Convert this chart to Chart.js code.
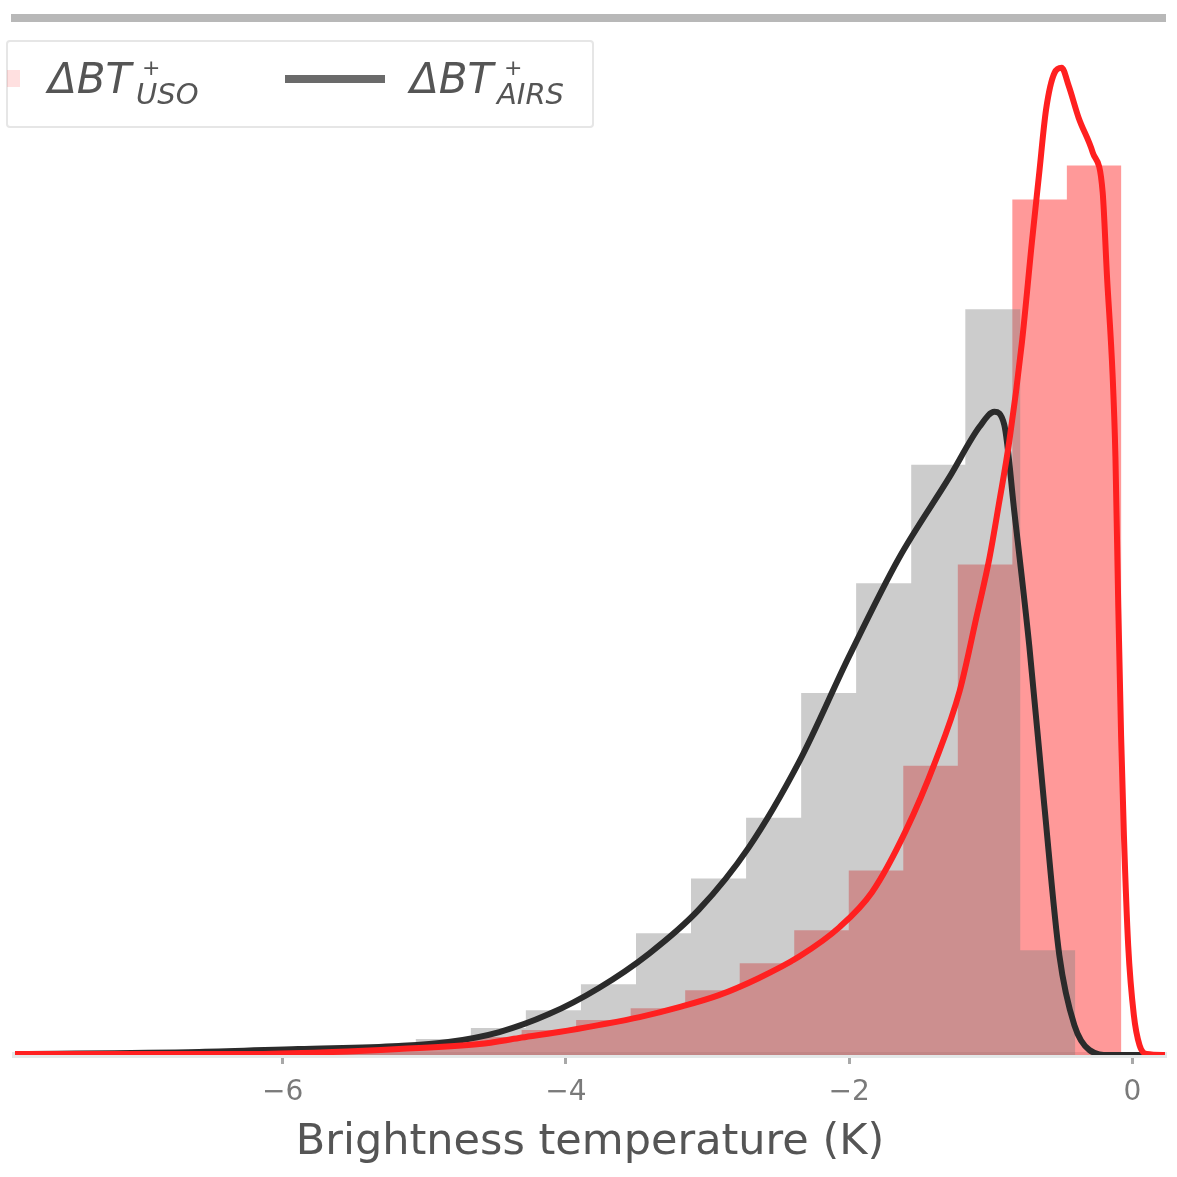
<!DOCTYPE html>
<html>
<head>
<meta charset="utf-8">
<script src="https://cdn.jsdelivr.net/npm/chart.js@4.4.1/dist/chart.umd.min.js"></script>
<style>
  body { margin: 0; background: #fff; }
  #wrap { position: relative; width: 1177px; height: 1177px; }
  #legendBox {
    position: absolute; left: 6px; top: 40px; width: 588px; height: 88px;
    border: 2px solid #e6e6e6; border-radius: 4px; background: rgba(255,255,255,0.85);
    box-sizing: border-box;
  }
  .lg { position: absolute; font-family: "DejaVu Sans", sans-serif; color: #555; line-height: 1; white-space: nowrap; font-style: italic; }
  .big { font-size: 42px; }
  .sub { font-size: 29px; }
  .sup { font-size: 22px; }
</style>
</head>
<body>
<div id="wrap">
  <canvas id="chart" width="1177" height="1177"></canvas>
  <div id="legendBox"></div>
  <div style="position:absolute;left:7px;top:70px;width:13px;height:17px;background:rgba(255,0,0,0.12)"></div>
  <div class="lg big" style="left:48px;top:58px">ΔBT</div>
  <div class="lg sup" style="left:142px;top:57px">+</div>
  <div class="lg sub" style="left:136px;top:80px">USO</div>
  <div style="position:absolute;left:285px;top:75px;width:100px;height:8px;background:#6a6a6a"></div>
  <div class="lg big" style="left:410px;top:58px">ΔBT</div>
  <div class="lg sup" style="left:504px;top:57px">+</div>
  <div class="lg sub" style="left:497px;top:80px">AIRS</div>
</div>
<script>
// histogram bins (bin edges ascending, one height per bin)
const grayEdges = [-7.781, -7.392, -7.004, -6.615, -6.226, -5.837, -5.449, -5.060, -4.671, -4.283,
  -3.894, -3.505, -3.117, -2.728, -2.339, -1.951, -1.562, -1.180, -0.792, -0.403];
const grayCounts = [0.001, 0.002, 0.003, 0.004, 0.005, 0.007, 0.010, 0.016, 0.027, 0.045,
  0.071, 0.122, 0.177, 0.238, 0.363, 0.473, 0.592, 0.748, 0.105];

const redEdges = [-7.393, -7.008, -6.623, -6.238, -5.853, -5.468, -5.083, -4.698, -4.313, -3.928,
  -3.543, -3.158, -2.773, -2.388, -2.003, -1.618, -1.233, -0.848, -0.463, -0.078];
const redCounts = [0.001, 0.001, 0.002, 0.003, 0.005, 0.008, 0.012, 0.018, 0.025, 0.035,
  0.047, 0.065, 0.092, 0.125, 0.185, 0.290, 0.492, 0.858, 0.892];

// density curves
const redKdeX = [-7.89, -6.24, -5.65, -5.18, -4.61, -4.33, -4.05, -3.77, -3.48, -3.20, -2.92, -2.64,
  -2.35, -2.07, -1.84, -1.60, -1.39, -1.22, -1.10, -1.01, -0.94, -0.87, -0.78, -0.71, -0.66, -0.61,
  -0.55, -0.50, -0.45, -0.38, -0.28, -0.21, -0.18, -0.14, -0.12, -0.10, -0.08, -0.06, -0.03, 0.01,
  0.05, 0.10, 0.23];
const redKdeY = [0.001, 0.001, 0.003, 0.006, 0.011, 0.017, 0.023, 0.030, 0.038, 0.048, 0.060, 0.077,
  0.099, 0.128, 0.163, 0.225, 0.295, 0.365, 0.440, 0.498, 0.555, 0.615, 0.715, 0.815, 0.882, 0.948,
  0.985, 0.990, 0.972, 0.940, 0.905, 0.865, 0.782, 0.682, 0.600, 0.450, 0.320, 0.220, 0.110, 0.040,
  0.010, 0.001, 0];

const grayKdeX = [-7.90, -6.59, -5.89, -5.18, -4.83, -4.47, -4.12, -3.77, -3.41, -3.06, -2.71, -2.35,
  -2.00, -1.65, -1.29, -1.08, -0.975, -0.905, -0.834, -0.728, -0.622, -0.516, -0.410, -0.304, -0.163, 0.23];
const grayKdeY = [0.001, 0.003, 0.006, 0.009, 0.013, 0.023, 0.041, 0.067, 0.102, 0.146, 0.208, 0.295,
  0.400, 0.498, 0.580, 0.630, 0.645, 0.632, 0.545, 0.410, 0.250, 0.100, 0.030, 0.005, 0, 0];

const xTicks = [-6, -4, -2, 0];

function histPoints(edges, counts) {
  const pts = counts.map((c, i) => ({ x: edges[i], y: c }));
  pts.push({ x: edges[edges.length - 1], y: 0 });
  return pts;
}

function curvePoints(xs, ys) {
  return xs.map((x, i) => ({ x, y: ys[i] }));
}

const ctx = document.getElementById("chart");

new Chart(ctx, {
  type: "line",
  data: {
    datasets: [
      {
        label: "USO hist",
        data: histPoints(redEdges, redCounts),
        stepped: "before",
        fill: "origin",
        backgroundColor: "rgba(255, 0, 0, 0.4)",
        borderWidth: 0,
        pointRadius: 0,
        order: 4,
      },
      {
        label: "AIRS hist",
        data: histPoints(grayEdges, grayCounts),
        stepped: "before",
        fill: "origin",
        backgroundColor: "rgba(128, 128, 128, 0.4)",
        borderWidth: 0,
        pointRadius: 0,
        order: 3,
      },
      {
        label: "AIRS",
        data: curvePoints(grayKdeX, grayKdeY),
        borderColor: "#2b2b2b",
        borderWidth: 6,
        cubicInterpolationMode: "monotone",
        pointRadius: 0,
        fill: false,
        order: 2,
      },
      {
        label: "USO",
        data: curvePoints(redKdeX, redKdeY),
        borderColor: "#ff2020",
        borderWidth: 6,
        cubicInterpolationMode: "monotone",
        pointRadius: 0,
        fill: false,
        order: 1,
      },
    ],
  },
  options: {
    responsive: false,
    devicePixelRatio: 1,
    animation: false,
    events: [],
    layout: { padding: { left: 15, right: 12, top: 0, bottom: 0 } },
    plugins: {
      legend: { display: false },
      tooltip: { enabled: false },
    },
    scales: {
      x: {
        type: "linear",
        position: "bottom",
        min: -7.89,
        max: 0.23,
        afterBuildTicks: (scale) => {
          scale.ticks = xTicks.map((v) => ({ value: v }));
        },
        afterFit: (scale) => {
          scale.height = 122;
        },
        ticks: {
          includeBounds: false,
          color: "#7a7a7a",
          padding: 12,
          font: { family: "DejaVu Sans", size: 28 },
          callback: (v) => (v < 0 ? "\u2212" + Math.abs(v) : String(v)),
        },
        grid: {
          display: true,
          drawOnChartArea: false,
          drawTicks: true,
          tickLength: 9,
          color: "#a8a8a8",
          lineWidth: 3,
        },
        border: { display: true, color: "#e4e8e8", width: 6 },
        title: {
          display: true,
          text: "Brightness temperature (K)",
          color: "#555",
          font: { family: "DejaVu Sans", size: 43 },
          padding: { top: 0, bottom: 8 },
        },
      },
      xTop: {
        type: "linear",
        position: "top",
        min: -7.89,
        max: 0.23,
        afterFit: (scale) => {
          scale.height = 18;
        },
        ticks: { display: false },
        grid: { display: false, drawTicks: false },
        border: { display: true, color: "#b8b8b8", width: 8 },
      },
      y: {
        display: false,
        min: 0,
        max: 1.04,
      },
    },
  },
});
</script>
</body>
</html>
